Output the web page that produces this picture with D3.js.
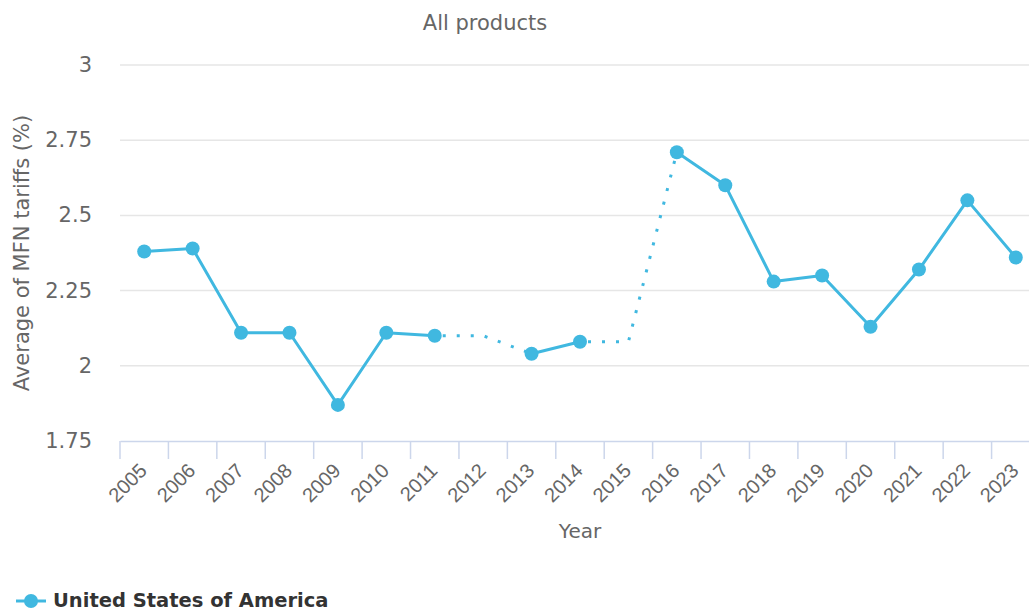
<!DOCTYPE html>
<html>
<head>
<meta charset="utf-8">
<script src="https://cdn.jsdelivr.net/npm/d3@7"></script>
<style>
  body { margin: 0; background: #fff; overflow: hidden; }
  svg { display: block; font-family: "DejaVu Sans", sans-serif; }
</style>
</head>
<body>
<div id="chart"></div>
<script>
const years = ['2005', '2006', '2007', '2008', '2009', '2010', '2011', '2012', '2013', '2014',
  '2015', '2016', '2017', '2018', '2019', '2020', '2021', '2022', '2023']
// reported values (null = no report that year)
const tariffs = [2.38, 2.39, 2.11, 2.11, 1.87, 2.11, 2.10, null, 2.04, 2.08,
  null, 2.71, 2.60, 2.28, 2.30, 2.13, 2.32, 2.55, 2.36]
// values the dotted line passes through in the missing years
const gapValues = { '2012': 2.10, '2015': 2.08 }
const yTicks = [1.75, 2, 2.25, 2.5, 2.75, 3]
const seriesName = 'United States of America'

const config = {
  width: 1029,
  height: 611,
  plot: { left: 120, right: 1040, top: 65, bottom: 441 },
  color: '#40b8e0',
  text: '#666666',
  grid: '#e6e6e6',
  axis: '#ccd6eb'
}

const svg = d3.select('#chart')
  .append('svg')
  .attr('width', config.width)
  .attr('height', config.height)

const x = d3.scaleBand()
  .domain(years)
  .range([config.plot.left, config.plot.right])
  .paddingInner(0).paddingOuter(0)

const y = d3.scaleLinear()
  .domain([1.75, 3])
  .range([config.plot.bottom, config.plot.top])

const cx = (d) => x(d.year) + x.bandwidth() / 2

// gridlines
svg.append('g')
  .selectAll('line')
  .data(yTicks.filter(t => t !== 1.75))
  .enter()
  .append('line')
  .attr('x1', config.plot.left)
  .attr('x2', config.plot.right)
  .attr('y1', d => y(d))
  .attr('y2', d => y(d))
  .attr('stroke', config.grid)
  .attr('stroke-width', 1.5)

// y axis labels
svg.append('g')
  .selectAll('text')
  .data(yTicks)
  .enter()
  .append('text')
  .attr('x', 92)
  .attr('y', d => y(d) + 7)
  .attr('text-anchor', 'end')
  .attr('fill', config.text)
  .style('font-size', '21px')
  .text(d => d)

// x axis
const xAxis = svg.append('g')
  .attr('transform', `translate(0, ${config.plot.bottom})`)
  .call(d3.axisBottom(x).tickSize(0).tickFormat(''))
xAxis.select('.domain').attr('stroke', config.axis).attr('stroke-width', 1.5)

xAxis.selectAll('line.band')
  .data(years)
  .enter()
  .append('line')
  .attr('class', 'band')
  .attr('x1', d => x(d))
  .attr('x2', d => x(d))
  .attr('y1', 0)
  .attr('y2', 18)
  .attr('stroke', config.axis)
  .attr('stroke-width', 1.5)

xAxis.selectAll('text.year')
  .data(years)
  .enter()
  .append('text')
  .attr('class', 'year')
  .attr('transform', d => `translate(${x(d) + x.bandwidth() / 2 + 4}, 31) rotate(-45)`)
  .attr('text-anchor', 'end')
  .attr('fill', config.text)
  .style('font-size', '20px')
  .text(d => d)

// titles
svg.append('text')
  .attr('x', 485)
  .attr('y', 30)
  .attr('text-anchor', 'middle')
  .attr('fill', config.text)
  .style('font-size', '21px')
  .text('All products')

svg.append('text')
  .attr('transform', `translate(29, ${(config.plot.top + config.plot.bottom) / 2}) rotate(-90)`)
  .attr('text-anchor', 'middle')
  .attr('fill', config.text)
  .style('font-size', '21px')
  .text('Average of MFN tariffs (%)')

svg.append('text')
  .attr('x', (config.plot.left + config.plot.right) / 2)
  .attr('y', 538)
  .attr('text-anchor', 'middle')
  .attr('fill', config.text)
  .style('font-size', '20px')
  .text('Year')

// data
const points = years.map((year, i) => ({ year: year, value: tariffs[i] }))
const reported = points.filter(d => d.value !== null)

// dotted bridges across missing years
const dottedSegments = []
points.forEach((d, i) => {
  if (d.value === null) {
    dottedSegments.push([points[i - 1], { year: d.year, value: gapValues[d.year] }, points[i + 1]])
  }
})

const line = d3.line()
  .defined(d => d.value !== null)
  .x(cx)
  .y(d => y(d.value))

svg.append('g')
  .selectAll('path')
  .data(dottedSegments)
  .enter()
  .append('path')
  .attr('d', d3.line().x(cx).y(d => y(d.value)))
  .attr('fill', 'none')
  .attr('stroke', config.color)
  .attr('stroke-width', 3)
  .attr('stroke-dasharray', '3,11')
  .attr('stroke-dashoffset', -8)

svg.append('path')
  .datum(points)
  .attr('d', line)
  .attr('fill', 'none')
  .attr('stroke', config.color)
  .attr('stroke-width', 3)
  .attr('stroke-linejoin', 'round')

svg.append('g')
  .selectAll('circle')
  .data(reported)
  .enter()
  .append('circle')
  .attr('cx', cx)
  .attr('cy', d => y(d.value))
  .attr('r', 7)
  .attr('fill', config.color)

// legend
const legend = svg.append('g').attr('transform', 'translate(0, 601)')
legend.append('line')
  .attr('x1', 16).attr('x2', 46)
  .attr('stroke', config.color)
  .attr('stroke-width', 3)
legend.append('circle')
  .attr('cx', 31).attr('r', 7)
  .attr('fill', config.color)
legend.append('text')
  .attr('x', 53)
  .attr('y', 6)
  .attr('fill', '#333333')
  .style('font-size', '19.5px')
  .style('font-weight', 'bold')
  .text(seriesName)
</script>
</body>
</html>
